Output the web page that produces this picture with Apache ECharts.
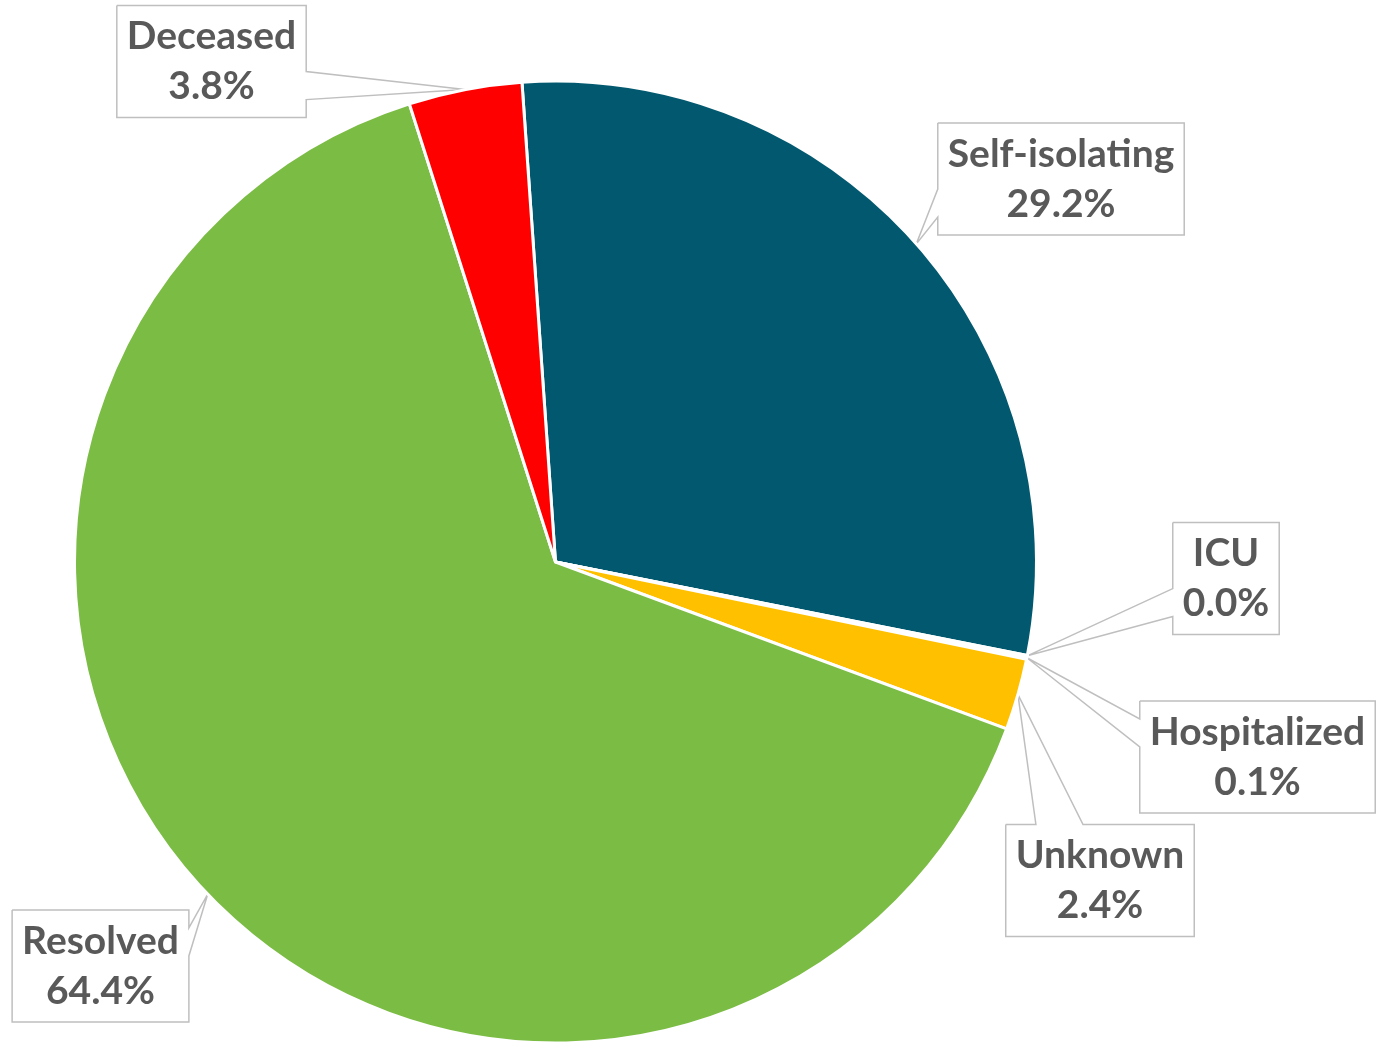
<!DOCTYPE html>
<html>
<head>
<meta charset="utf-8">
<script src="https://cdn.jsdelivr.net/npm/echarts@6/dist/echarts.min.js"></script>
<style>
  html, body { margin: 0; padding: 0; background: #ffffff; }
  #chart { width: 1381px; height: 1042px; }
</style>
</head>
<body>
<div id="chart"></div>
<script>
// ---- data ----
const categories = ['Self-isolating', 'ICU', 'Hospitalized', 'Unknown', 'Resolved', 'Deceased'];
const shares = [29.2, 0.03, 0.1, 2.4, 64.4, 3.8];   // percent of cases
const colors = ['#02596F', '#4472C4', '#A5A5A5', '#FFC000', '#7BBC44', '#FF0000'];

// ---- callout box centres (layout only) ----
const calloutCenters = {
  'Self-isolating': [1061, 179],
  'ICU': [1226, 578.5],
  'Hospitalized': [1257.5, 757],
  'Unknown': [1100, 880.5],
  'Resolved': [100.5, 966],
  'Deceased': [211.5, 61.5]
};

function calloutOutline(tip, l, t, r, b) {
  const w = r - l, h = b - t;
  const cx = (l + r) / 2, cy = (t + b) / 2;
  let side;
  if (tip[0] < l) side = 'left';
  else if (tip[0] > r) side = 'right';
  else if (tip[1] < t) side = 'top';
  else side = 'bottom';
  let f1, f2;
  const along = (side === 'left' || side === 'right') ? (tip[1] > cy) : (tip[0] > cx);
  if (along) { f1 = 0.59; f2 = 0.84; } else { f1 = 0.16; f2 = 0.41; }
  const pts = [[l, t]];
  if (side === 'top') pts.push([l + f1 * w, t], tip, [l + f2 * w, t]);
  pts.push([r, t]);
  if (side === 'right') pts.push([r, t + f1 * h], tip, [r, t + f2 * h]);
  pts.push([r, b]);
  if (side === 'bottom') pts.push([l + f2 * w, b], tip, [l + f1 * w, b]);
  pts.push([l, b]);
  if (side === 'left') pts.push([l, t + f2 * h], tip, [l, t + f1 * h]);
  pts.push([l, t]);
  return pts;
}

const chart = echarts.init(document.getElementById('chart'), null, { renderer: 'canvas' });

chart.setOption({
  backgroundColor: '#ffffff',
  animation: false,
  series: [{
    type: 'pie',
    center: [555.5, 562],
    radius: 481,
    startAngle: 94,
    clockwise: true,
    avoidLabelOverlap: false,
    minShowLabelAngle: 0,
    data: categories.map((c, i) => ({ name: c, value: shares[i], itemStyle: { color: colors[i] } })),
    itemStyle: { borderColor: '#ffffff', borderWidth: 3 },
    emphasis: { disabled: true },
    label: {
      show: true,
      position: 'outside',
      formatter: p => p.name + '\n' + p.value.toFixed(1) + '%',
      fontFamily: 'Lato',
      fontWeight: 'bold',
      fontSize: 39,
      lineHeight: 50,
      color: '#595959',
      align: 'center',
      padding: [6, 10]
    },
    labelLine: {
      show: true,
      length: 10,
      length2: 10,
      lineStyle: { color: '#BFBFBF', width: 1.5 }
    },
    labelLayout: function (params) {
      const name = categories[params.dataIndex];
      const c = calloutCenters[name];
      const w = params.labelRect.width, h = params.labelRect.height;
      const l = c[0] - w / 2, r = c[0] + w / 2, t = c[1] - h / 2, b = c[1] + h / 2;
      const tip = params.labelLinePoints ? params.labelLinePoints[0] : [c[0], c[1]];
      return {
        x: c[0],
        y: c[1],
        align: 'center',
        verticalAlign: 'middle',
        labelLinePoints: calloutOutline(tip, l, t, r, b)
      };
    }
  }]
});
</script>
</body>
</html>
